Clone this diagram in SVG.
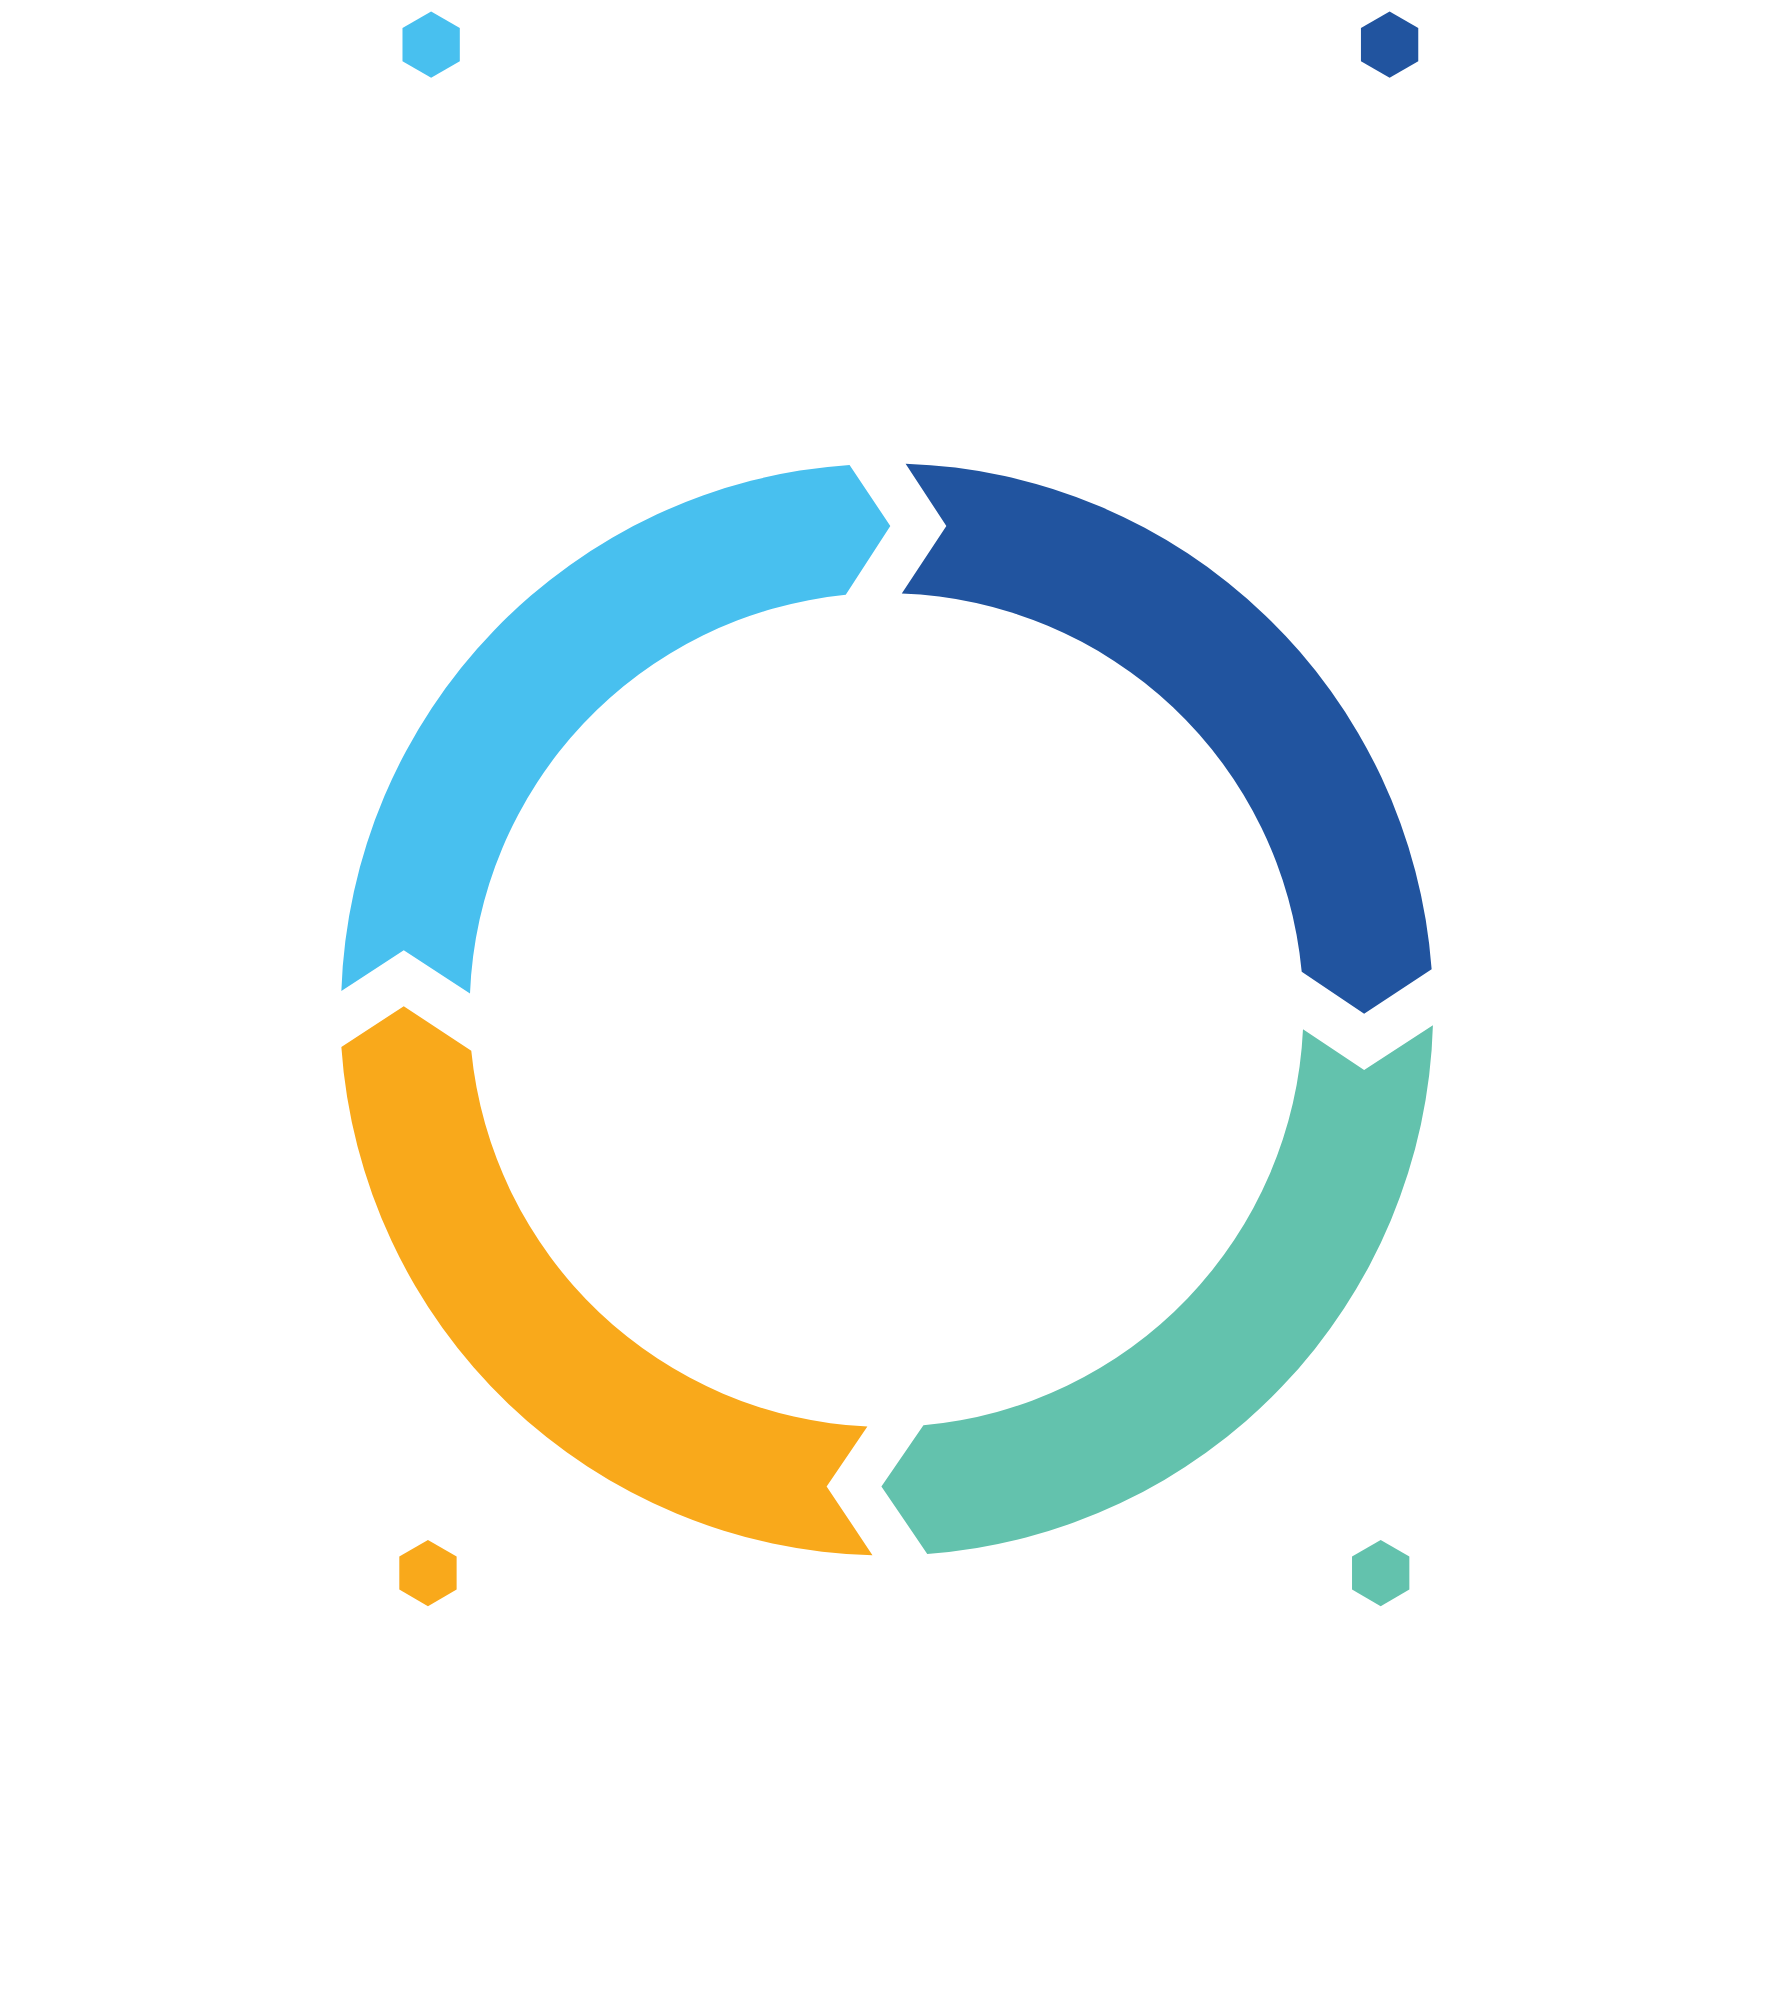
<svg xmlns="http://www.w3.org/2000/svg" width="1773" height="1999" viewBox="0 0 1773 1999">
<style>.a{fill:#48C0EF}.b{fill:#21549F}.c{fill:#63C2AD}.d{fill:#F9A91B}</style>
<defs><polygon id="hex" points="0,-26 22.5,-13 22.5,13 0,26 -22.5,13 -22.5,-13"/></defs>
<rect width="1773" height="1999" fill="#fff"/>
<g transform="scale(1.2737)">
<g id="seg1"><path class="a" d="M268 778 A428.5 428.5 0 0 1 667 365 L699 413 L664 467 A327.5 327.5 0 0 0 369 780 L317 746 Z"/></g>
<g id="seg2"><path class="b" d="M711 364 A428.5 428.5 0 0 1 1124 761 L1071 796 L1022 763 A327.5 327.5 0 0 0 708 466 L743 413 Z"/></g>
<g id="seg3"><path class="c" d="M1125 805 A428.5 428.5 0 0 1 728 1220 L692 1167 L725 1119 A327.5 327.5 0 0 0 1023 808 L1071 840 Z"/></g>
<g id="seg4"><path class="d" d="M685 1221 A428.5 428.5 0 0 1 268 822 L317 790 L370 825 A327.5 327.5 0 0 0 681 1120 L649 1167 Z"/></g>
<g id="hex1"><use href="#hex" class="a" x="338.5" y="35"/></g>
<g id="hex2"><use href="#hex" class="b" x="1091" y="35"/></g>
<g id="hex3"><use href="#hex" class="d" x="336" y="1235"/></g>
<g id="hex4"><use href="#hex" class="c" x="1084" y="1235"/></g>
</g>
<g id="connectors"/>
</svg>
